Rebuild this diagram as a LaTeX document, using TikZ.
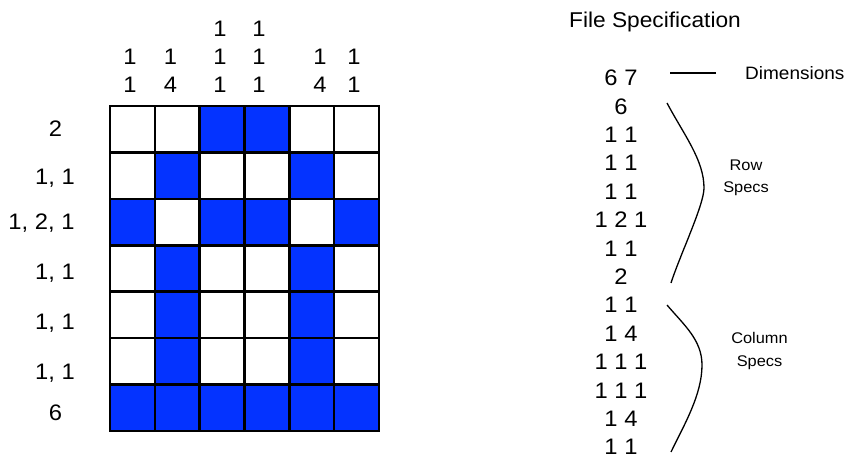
\documentclass[tikz,border=0pt]{standalone}
\usepackage{fontspec}
\setmainfont[FakeStretch=1.06]{Liberation Sans}

\begin{document}
\begin{tikzpicture}[x=1bp,y=-1bp,every node/.style={font=\fontsize{22.5}{28.5}\selectfont,align=center,inner sep=0}]
\path[use as bounding box] (0,0) rectangle (847,459);
\definecolor{cellblue}{HTML}{0433FF}
\tikzset{gridline/.style={line width=2.6bp,line cap=rect},
  speclabel/.style={font=\fontsize{15.5}{22.5}\selectfont},
  brace/.style={line width=1.3bp}}
\foreach \r/\cells in {0/{3,4},1/{2,5},2/{1,3,4,6},3/{2,5},4/{2,5},5/{2,5},6/{1,2,3,4,5,6}}
  {\foreach \c in \cells {\fill[cellblue] ({110+44.83*(\c-1)},{106+46.43*\r}) rectangle ++(44.83,46.43);}}
\foreach \c in {0,...,6}{\draw[gridline] ({110+44.83*\c},106) -- ({110+44.83*\c},431);}
\foreach \r in {0,...,7}{\draw[gridline] (110,{106+46.43*\r}) -- (379,{106+46.43*\r});}
\foreach \x/\t [count=\k] in {130/{1\\1},170.5/{1\\4},220/{1\\1\\1},259/{1\\1\\1},320/{1\\4},354/{1\\1}}
  {\node[anchor=south] (col\k) at (\x,93) {\t};}
\foreach \x/\y/\t [count=\k] in {55.5/129/2,55/177/{1, 1},41.5/222/{1, 2, 1},55/272/{1, 1},55/322/{1, 1},55/372/{1, 1},55.5/413/6}
  {\node[text depth=0pt] (row\k) at (\x,\y) {\t};}
\node[anchor=base west,font=\fontsize{21.5}{27}\selectfont] (title) at (569,27.3) {File Specification};
\foreach \t [count=\k from 0] in {6 7,6,1 1,1 1,1 1,1 2 1,1 1,2,1 1,1 4,1 1 1,1 1 1,1 4,1 1}
  {\node (spec\k) at (621,{78+28.4*\k}) {\t};}
\node[speclabel,anchor=base west,font=\fontsize{18}{22.5}\selectfont] (dims) at (745,79.3) {Dimensions};
\draw[brace] (dims.west) ++(-29,0) -- ++(-46,0);
\node[speclabel] (rowspecs) at (746,178) {Row\\Specs};
\node[speclabel] (colspecs) at (759.5,351) {Column\\Specs};
\draw[brace] (667,103) .. controls (684,135) and (704,160) .. (704,188) .. controls (704,205) and (680,255) .. (671,283);
\draw[brace] (667,305) .. controls (684,325) and (702,340) .. (702,365) .. controls (702,395) and (684,425) .. (671,452);
\end{tikzpicture}
\end{document}
